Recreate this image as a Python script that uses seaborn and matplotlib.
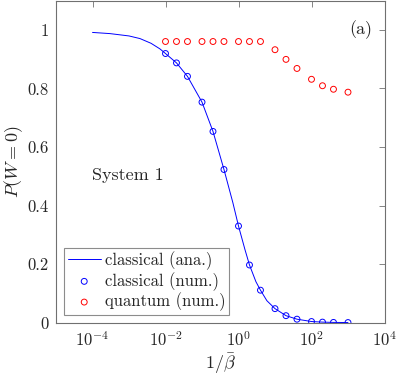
import numpy as np
import pandas as pd
import matplotlib
matplotlib.use("Agg")
import matplotlib.pyplot as plt
import seaborn as sns
from matplotlib.ticker import FixedLocator, NullLocator, FuncFormatter

# values
inv_beta = [0.01, 0.02, 0.04, 0.1, 0.2, 0.4, 1, 2, 4, 10, 20, 40, 100, 200, 400, 1000]
p_classical_num = [0.919, 0.887, 0.841, 0.753, 0.653, 0.523, 0.330, 0.197, 0.111,
                   0.048, 0.024, 0.012, 0.004, 0.002, 0.001, 0.0005]
p_quantum_num = [0.960, 0.960, 0.960, 0.960, 0.960, 0.960, 0.960, 0.960, 0.960,
                 0.932, 0.899, 0.868, 0.831, 0.809, 0.797, 0.787]

# analytic curve
ana_x = [1e-4, 3e-4, 1e-3, 2e-3, 4e-3, 7e-3, 0.01, 0.02, 0.04, 0.1, 0.2, 0.4, 0.7, 1,
         1.5, 2, 3, 4, 6, 10, 20, 40, 100, 200, 400, 1000]
ana_y = [0.991, 0.987, 0.979, 0.970, 0.954, 0.935, 0.919, 0.887, 0.841, 0.753, 0.653,
         0.523, 0.41, 0.330, 0.25, 0.197, 0.14, 0.111, 0.075, 0.048, 0.024, 0.012,
         0.004, 0.002, 0.001, 0.0005]

sns.set_style("white")
plt.rcParams["font.family"] = ["cmr10"]
plt.rcParams["mathtext.fontset"] = "cm"
plt.rcParams["axes.formatter.use_mathtext"] = True
plt.rcParams["axes.unicode_minus"] = False

frame = "#707070"

fig = plt.figure(figsize=(3.99, 3.76), dpi=100)
ax = fig.add_axes([56 / 399, 53.3 / 376, 328.5 / 399, 322.2 / 376])

df_ana = pd.DataFrame({"x": ana_x, "y": ana_y})
df_num = pd.DataFrame({"x": inv_beta, "cl": p_classical_num, "qu": p_quantum_num})

sns.lineplot(data=df_ana, x="x", y="y", ax=ax, color="blue", lw=0.7,
             label="classical (ana.)")
sns.scatterplot(data=df_num, x="x", y="cl", ax=ax, marker="o", s=18,
                facecolor="none", edgecolor="blue", linewidth=0.7,
                label="classical (num.)")
sns.scatterplot(data=df_num, x="x", y="qu", ax=ax, marker="o", s=18,
                facecolor="none", edgecolor="red", linewidth=0.7,
                label="quantum (num.)")

ax.set_xscale("log")
ax.set_xlim(1e-5, 1e4)
ax.set_ylim(0, 1.1)
ax.xaxis.set_major_locator(FixedLocator([1e-4, 1e-2, 1e0, 1e2, 1e4]))
ax.xaxis.set_minor_locator(NullLocator())
ax.set_yticks([0, 0.2, 0.4, 0.6, 0.8, 1])
ax.yaxis.set_major_formatter(FuncFormatter(lambda v, p: "%g" % v))

for s in ax.spines.values():
    s.set_color(frame)
    s.set_linewidth(0.8)
ax.tick_params(which="both", direction="in", top=True, right=True, length=4,
               width=0.6, color=frame, labelsize=12, pad=5)

ax.set_xlabel(r"$1/\bar{\beta}$", fontsize=13, labelpad=2)
ax.set_ylabel(r"$P(W=0)$", fontsize=13, labelpad=2)

ax.text(0.927, 0.91, "(a)", transform=ax.transAxes, fontsize=13, ha="center", va="center")
ax.text(1e-4, 0.504, "System 1", fontsize=13, ha="left", va="center")

leg = ax.legend(loc="lower left", bbox_to_anchor=(0.025, 0.025), fontsize=12,
                frameon=True, fancybox=False, borderpad=0.2, labelspacing=0.12,
                handlelength=2.0, handletextpad=0.25, borderaxespad=0)
leg.get_frame().set_edgecolor(frame)
leg.get_frame().set_linewidth(0.8)

fig.savefig("out.png", dpi=100)
